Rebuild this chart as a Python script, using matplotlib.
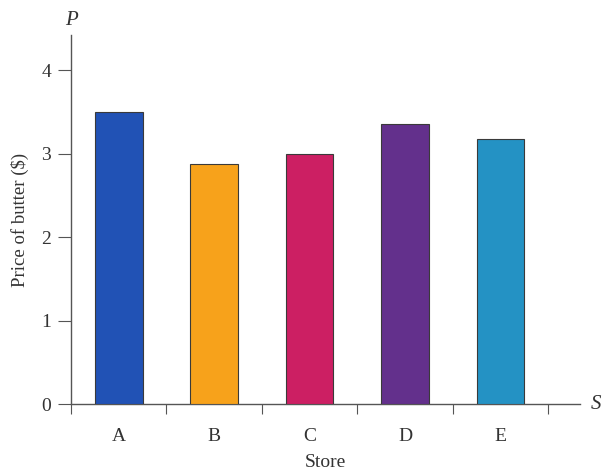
import matplotlib
matplotlib.use("Agg")
import matplotlib.pyplot as plt

stores = ["A", "B", "C", "D", "E"]
prices = [3.50, 2.87, 3.00, 3.36, 3.18]
colors = ["#2152b5", "#f7a21b", "#cc1f63", "#63308c", "#2492c4"]
yticks = [0, 1, 2, 3, 4]

plt.rcParams["font.family"] = ["Liberation Serif", "DejaVu Serif"]

fig = plt.figure(figsize=(6.02, 4.70), dpi=100)
ax = fig.add_axes([0.118, 0.1404, 0.845, 0.785])

x = list(range(len(stores)))
ax.bar(x, prices, width=0.5, color=colors, edgecolor="#3a3a3a", linewidth=0.8, zorder=3)

ax.set_xlim(-0.5, 4.83)
ax.set_ylim(0, 4.42)

for side in ("top", "right"):
    ax.spines[side].set_visible(False)
for side in ("left", "bottom"):
    ax.spines[side].set_color("#555555")
    ax.spines[side].set_linewidth(1.0)

# category boundaries carry the tick marks; letters sit centred under bars
ax.set_xticks([i - 0.5 for i in range(len(stores) + 1)])
ax.set_xticklabels([])
ax.set_xticks(x, minor=True)
ax.set_xticklabels(stores, minor=True, fontsize=14, color="#333333")
ax.tick_params(axis="x", which="major", direction="out", length=7, color="#555555")
ax.tick_params(axis="x", which="minor", length=0, pad=17)

ax.set_yticks(yticks)
ax.set_yticklabels([str(v) for v in yticks], fontsize=14, color="#333333")
ax.tick_params(axis="y", direction="out", length=9.5, color="#555555", pad=5)

ax.set_xlabel("Store", fontsize=14, color="#333333", labelpad=7)
ax.set_ylabel("Price of butter ($)", fontsize=13.5, color="#333333", labelpad=9)

ax.text(0.0, 1.015, "P", transform=ax.transAxes, ha="center", va="bottom",
        fontsize=15, fontstyle="italic", color="#333333")
ax.text(1.022, 0.0, "S", transform=ax.transAxes, ha="left", va="center",
        fontsize=15, fontstyle="italic", color="#333333")

fig.savefig("out.png", dpi=100, facecolor="white")
